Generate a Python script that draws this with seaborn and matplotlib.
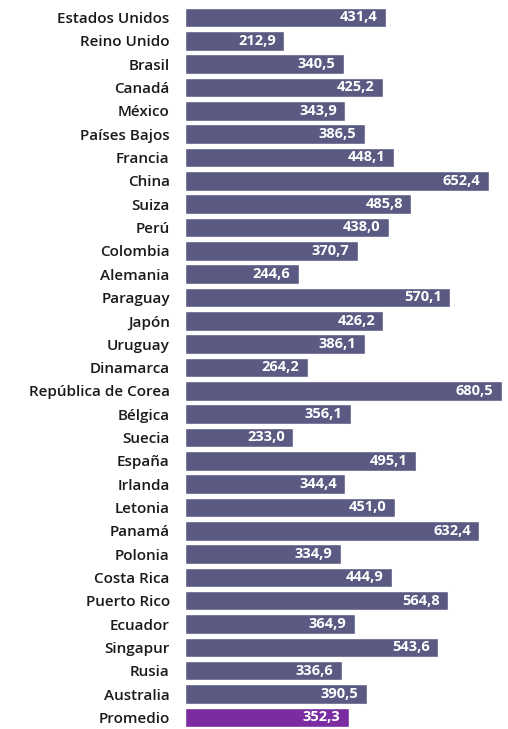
import pandas as pd
import seaborn as sns
import matplotlib.pyplot as plt

paises = ['Estados Unidos', 'Reino Unido', 'Brasil', 'Canadá', 'México',
          'Países Bajos', 'Francia', 'China', 'Suiza', 'Perú', 'Colombia',
          'Alemania', 'Paraguay', 'Japón', 'Uruguay', 'Dinamarca',
          'República de Corea', 'Bélgica', 'Suecia', 'España', 'Irlanda',
          'Letonia', 'Panamá', 'Polonia', 'Costa Rica', 'Puerto Rico',
          'Ecuador', 'Singapur', 'Rusia', 'Australia', 'Promedio']
valores = [431.4, 212.9, 340.5, 425.2, 343.9, 386.5, 448.1, 652.4, 485.8,
           438.0, 370.7, 244.6, 570.1, 426.2, 386.1, 264.2, 680.5, 356.1,
           233.0, 495.1, 344.4, 451.0, 632.4, 334.9, 444.9, 564.8, 364.9,
           543.6, 336.6, 390.5, 352.3]

df = pd.DataFrame({'pais': paises, 'valor': valores})
colores = ['#5a5a82'] * (len(paises) - 1) + ['#7a2ca0']

sns.set_style('white')
plt.rcParams['font.family'] = ['Open Sans', 'DejaVu Sans']

fig = plt.figure(figsize=(5.08, 7.29), dpi=100)
ax = fig.add_axes([0.364, 0.0, 0.624, 0.992])
sns.barplot(x='valor', y='pais', data=df, hue='pais', palette=colores,
            legend=False, width=0.84, ax=ax, saturation=1)

ax.set_xlim(0, 680.5)
ax.set_ylim(len(paises) - 0.5, -0.5)
ax.set_xlabel('')
ax.set_ylabel('')
ax.set_xticks([])
ax.tick_params(axis='y', length=0, pad=11)
for lab in ax.get_yticklabels():
    lab.set_fontsize(11)
    lab.set_fontweight('semibold')
    lab.set_color('#1a1a1a')
for s in ax.spines.values():
    s.set_visible(False)

for i, v in enumerate(valores):
    ax.annotate(f'{v:.1f}'.replace('.', ','), xy=(v, i), xytext=(-6, 0),
                textcoords='offset points', ha='right', va='center',
                color='white', fontsize=10.5, fontweight='bold')

fig.savefig('out.png', dpi=100)
